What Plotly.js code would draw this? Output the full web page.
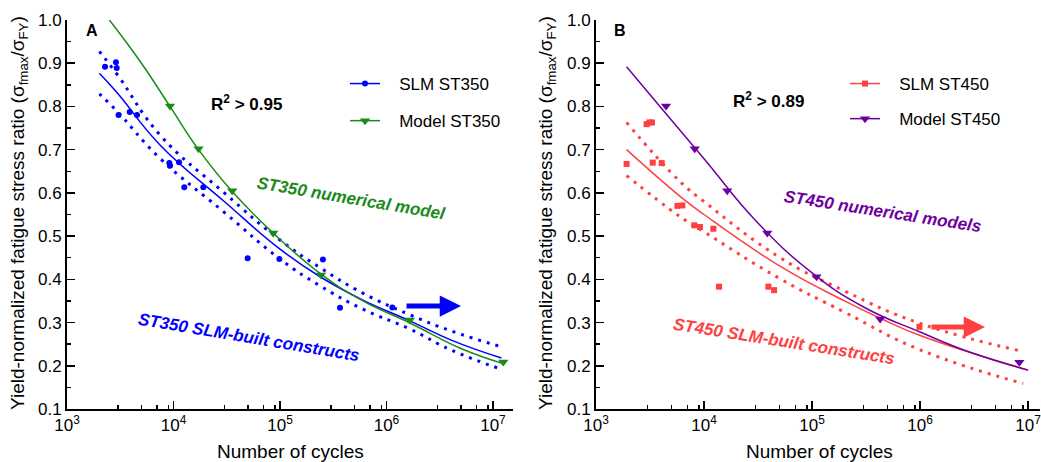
<!DOCTYPE html>
<html><head><meta charset="utf-8">
<script src="https://cdn.plot.ly/plotly-3.0.1.min.js"></script>
<style>html,body{margin:0;padding:0;background:#fff}#chart{width:1041px;height:462px}</style>
</head><body><div id="chart"></div>
<script>
// ---------- Panel A : ST350 ----------
const slm350Cycles = [2275, 2880, 2930, 3050, 3880, 4540, 9140, 9290, 11270, 12630, 19050, 49700, 98700, 253000, 366000, 1135000];
const slm350Ratio  = [0.892, 0.902, 0.889, 0.780, 0.787, 0.780, 0.669, 0.663, 0.671, 0.613, 0.613, 0.449, 0.447, 0.446, 0.334, 0.335];
const model350Cycles = [9270, 17200, 35600, 86500, 243000, 1660000, 12500000];
const model350Ratio  = [0.801, 0.702, 0.605, 0.507, 0.410, 0.306, 0.209];
const fit350Cycles = [2015, 3000, 7470, 30000, 100000, 238000, 600000, 1660000, 4000000, 12000000];
const fit350Ratio  = [0.877, 0.830, 0.711, 0.580, 0.470, 0.406, 0.352, 0.304, 0.260, 0.218];
const fit350Upper  = [0.927, 0.872, 0.734, 0.600, 0.491, 0.427, 0.368, 0.318, 0.281, 0.244];
const fit350Lower  = [0.829, 0.787, 0.680, 0.555, 0.447, 0.385, 0.331, 0.285, 0.237, 0.192];
const curve350Cycles = [2500, 5000, 9270, 17200, 35600, 86500, 243000, 600000, 1660000, 5000000, 12500000];
const curve350Ratio  = [1.000, 0.900, 0.800, 0.700, 0.603, 0.507, 0.412, 0.350, 0.299, 0.240, 0.205];

// ---------- Panel B : ST450 ----------
const slm450Cycles = [1920, 2940, 3120, 3300, 3350, 4060, 5670, 6300, 8130, 9180, 12200, 13770, 39400, 44500, 986000];
const slm450Ratio  = [0.667, 0.759, 0.763, 0.763, 0.670, 0.669, 0.570, 0.571, 0.525, 0.521, 0.517, 0.383, 0.383, 0.375, 0.290];
const model450Cycles = [4450, 8200, 16400, 38500, 110000, 427000, 8300000];
const model450Ratio  = [0.801, 0.702, 0.605, 0.507, 0.406, 0.308, 0.208];
const fit450Cycles = [1920, 6000, 10000, 50000, 200000, 427000, 1000000, 10000000];
const fit450Ratio  = [0.700, 0.592, 0.550, 0.431, 0.350, 0.310, 0.270, 0.190];
const band450Cycles = [1920, 6000, 10000, 50000, 200000, 1000000, 9000000];
const band450Upper = [0.763, 0.626, 0.580, 0.451, 0.373, 0.298, 0.233];
const band450Lower = [0.640, 0.545, 0.510, 0.402, 0.324, 0.237, 0.159];
const curve450Cycles = [1920, 3000, 10000, 30000, 100000, 300000, 1000000, 3000000, 10000000];
const curve450Ratio  = [0.892, 0.834, 0.679, 0.536, 0.415, 0.336, 0.278, 0.230, 0.190];

// ---------- ticks ----------
const xTickVals = [1e3, 1e4, 1e5, 1e6, 1e7];
const xTickText = ['10<sup>3</sup>', '10<sup>4</sup>', '10<sup>5</sup>', '10<sup>6</sup>', '10<sup>7</sup>'];
const xMinorMantissas = [3, 5, 7, 9];
const yTickVals = [0.1, 0.2, 0.3, 0.4, 0.5, 0.6, 0.7, 0.8, 0.9, 1.0];
const yTickText = ['0.1', '0.2', '0.3', '0.4', '0.5', '0.6', '0.7', '0.8', '0.9', '1.0'];

const BLUE = '#0000FF', GREEN = '#1a8a1a', RED = '#FF4040', PURPLE = '#6E00A0';
const W = 1041, H = 462;
const FONT = 'Liberation Sans, Arial, Helvetica, sans-serif';

const xMinorVals = [];
[1e3, 1e4, 1e5, 1e6].forEach(d => xMinorMantissas.forEach(m => xMinorVals.push(d * m)));

const dotted = c => ({color: c, width: 3, dash: '3px,6px', shape: 'spline', smoothing: 1.3});
const solid = c => ({color: c, width: 1.5, shape: 'spline', smoothing: 1.3});

function panel(ax, ay, leg, fitC, fitR, bandC, up, lo, fitColor, curveC, curveR, curveColor,
               dataC, dataR, dataSym, modC, modR, modColor, nameData, nameModel, grp) {
  const base = {xaxis: ax, yaxis: ay, hoverinfo: 'skip', showlegend: false, cliponaxis: false};
  return [
    Object.assign({x: bandC, y: up, mode: 'lines', line: dotted(fitColor)}, base),
    Object.assign({x: bandC, y: lo, mode: 'lines', line: dotted(fitColor)}, base),
    Object.assign({x: fitC, y: fitR, mode: 'lines', line: solid(fitColor)}, base),
    Object.assign({x: curveC, y: curveR, mode: 'lines', line: solid(curveColor)}, base),
    Object.assign({x: dataC, y: dataR, mode: 'markers', marker: {symbol: dataSym, size: 6, color: fitColor}}, base),
    Object.assign({x: modC, y: modR, mode: 'markers', marker: {symbol: 'triangle-down', size: 9, color: modColor}}, base),
    {x: [null], y: [null], xaxis: ax, yaxis: ay, mode: 'lines+markers', name: '\u00a0\u00a0\u00a0' + nameData,
     line: {color: fitColor, width: 1.5}, marker: {symbol: dataSym, size: 6, color: fitColor},
     legend: leg, legendgroup: grp + '1', showlegend: true},
    {x: [null], y: [null], xaxis: ax, yaxis: ay, mode: 'lines+markers', name: '\u00a0\u00a0\u00a0' + nameModel,
     line: {color: modColor, width: 1.5}, marker: {symbol: 'triangle-down', size: 9, color: modColor},
     legend: leg, legendgroup: grp + '2', showlegend: true}
  ];
}

const traces = [].concat(
  panel('x', 'y', 'legend', fit350Cycles, fit350Ratio, fit350Cycles, fit350Upper, fit350Lower, BLUE,
        curve350Cycles, curve350Ratio, GREEN, slm350Cycles, slm350Ratio, 'circle',
        model350Cycles, model350Ratio, GREEN, 'SLM ST350', 'Model ST350', 'a'),
  panel('x2', 'y2', 'legend2', fit450Cycles, fit450Ratio, band450Cycles, band450Upper, band450Lower, RED,
        curve450Cycles, curve450Ratio, PURPLE, slm450Cycles, slm450Ratio, 'square',
        model450Cycles, model450Ratio, PURPLE, 'SLM ST450', 'Model ST450', 'b')
);

const axisCommon = {
  showline: true, linecolor: '#000', linewidth: 2, ticks: 'inside', ticklen: 8, tickwidth: 1.5,
  tickcolor: '#000', showgrid: false, zeroline: false, ticklabeloverflow: 'allow',
  tickfont: {size: 17, color: '#000', family: FONT}
};
const xAxis = (dom, rng, anchor) => Object.assign({}, axisCommon, {
  type: 'log', domain: dom, range: rng, anchor: anchor, tickmode: 'array', tickvals: xTickVals, ticktext: xTickText,
  minor: {tickmode: 'array', tickvals: xMinorVals, ticks: 'inside', ticklen: 4, tickwidth: 1.5, tickcolor: '#000', showgrid: false}
});
const yAxis = (anchor) => Object.assign({}, axisCommon, {
  domain: [1 - 409 / H, 1 - 20 / H], range: [0.1, 1.0], anchor: anchor, tickmode: 'array',
  tickvals: yTickVals, ticktext: yTickText,
  minor: {dtick: 0.05, tick0: 0.1, ticks: 'inside', ticklen: 4, tickwidth: 1.5, tickcolor: '#000', showgrid: false}
});

const ann = (px, py, text, o) => Object.assign({
  xref: 'paper', yref: 'paper', x: px / W, y: 1 - py / H, text: text, showarrow: false,
  xanchor: 'center', yanchor: 'middle', font: {family: FONT, size: 17, color: '#000'}
}, o || {});
const arrow = (tipX, tipY, len, color) => ({
  xref: 'paper', yref: 'paper', x: tipX / W, y: 1 - tipY / H, ax: -len, ay: 0, text: '',
  showarrow: true, arrowhead: 2, arrowwidth: 5, arrowsize: 0.85, arrowcolor: color
});
const yTitle = 'Yield-normalized fatigue stress ratio (σ<sub>fmax</sub>/σ<sub>FY</sub>)';

const layout = {
  width: W, height: H, margin: {l: 0, r: 0, t: 0, b: 0},
  paper_bgcolor: '#fff', plot_bgcolor: 'rgba(0,0,0,0)',
  font: {family: FONT, color: '#000', size: 17},
  xaxis: xAxis([67 / W, 513 / W], [3, 7.188], 'y'),
  yaxis: yAxis('x'),
  xaxis2: xAxis([596 / W, 1040 / W], [3, 7.11], 'y2'),
  yaxis2: yAxis('x2'),
  legend: {x: 345 / W, xanchor: 'left', y: 1 - 66 / H, yanchor: 'top', bgcolor: 'rgba(0,0,0,0)',
           font: {size: 17, family: FONT}, traceorder: 'grouped', tracegroupgap: 12},
  legend2: {x: 845 / W, xanchor: 'left', y: 1 - 66 / H, yanchor: 'top', bgcolor: 'rgba(0,0,0,0)',
           font: {size: 17, family: FONT}, traceorder: 'grouped', tracegroupgap: 10},
  annotations: [
    ann(19, 213, yTitle, {textangle: -90, font: {family: FONT, size: 19, color: '#000'}}),
    ann(547, 213, yTitle, {textangle: -90, font: {family: FONT, size: 19, color: '#000'}}),
    ann(290, 451, 'Number of cycles', {font: {family: FONT, size: 19, color: '#000'}}),
    ann(819, 451, 'Number of cycles', {font: {family: FONT, size: 19, color: '#000'}}),
    ann(92, 30, '<b>A</b>', {font: {family: FONT, size: 16, color: '#000'}}),
    ann(620, 30, '<b>B</b>', {font: {family: FONT, size: 16, color: '#000'}}),
    ann(246, 103, '<b>R<sup>2</sup> &gt; 0.95</b>'),
    ann(768, 100, '<b>R<sup>2</sup> &gt; 0.89</b>'),
    ann(351, 198, '<b><i>ST350 numerical model</i></b>', {textangle: 9.5, font: {family: FONT, size: 17, color: GREEN}}),
    ann(249, 337, '<b><i>ST350 SLM-built constructs</i></b>', {textangle: 9.5, font: {family: FONT, size: 17, color: BLUE}}),
    ann(882, 211, '<b><i>ST450 numerical models</i></b>', {textangle: 8.8, font: {family: FONT, size: 17, color: PURPLE}}),
    ann(784, 341, '<b><i>ST450 SLM-built constructs</i></b>', {textangle: 9, font: {family: FONT, size: 17, color: RED}}),
    arrow(461, 306, 56, BLUE),
    arrow(985, 327, 55, RED)
  ]
};

Plotly.newPlot('chart', traces, layout, {staticPlot: true, displayModeBar: false});
</script>
</body></html>
